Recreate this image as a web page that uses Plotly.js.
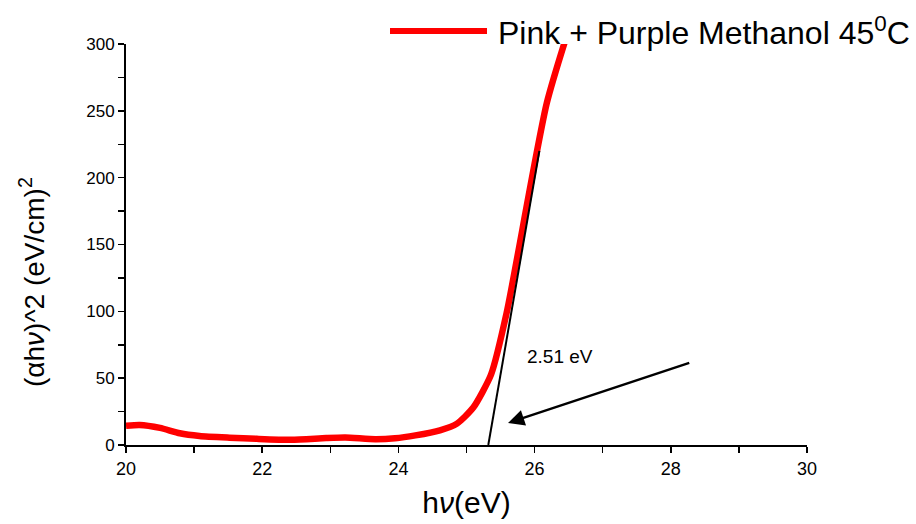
<!DOCTYPE html>
<html><head><meta charset="utf-8">
<script src="https://cdn.plot.ly/plotly-3.0.1.min.js"></script>
<style>body{margin:0;background:#fff}#c{width:916px;height:524px}</style>
</head><body><div id="c"></div>
<script>
// Measured curve (hv in eV, (αhν)^2)
const hv = [20.0, 20.2, 20.5, 20.79, 21.08, 21.52, 21.92, 22.43, 22.94, 23.22, 23.66, 23.95, 24.25, 24.61, 24.86, 25.10, 25.36, 25.59, 26.18, 26.62];
const ahv2 = [14.3, 15.0, 12.8, 8.8, 6.8, 5.5, 4.6, 3.9, 5.2, 5.6, 4.3, 5.0, 7.2, 11.0, 16.0, 28.0, 52.6, 99.0, 256.0, 330.0];
// Tangent (extrapolation) line
const tanX = [25.32, 26.07];
const tanY = [0, 220];
// Arrow and label
const arrowTail = [28.33, 62.4];
const arrowHead = [25.61, 16.5];
const gapLabel = "2.51 eV";
const seriesName = "Pink + Purple Methanol 45<sup>0</sup>C";
const yTitle = "(αh<i>ν</i>)^2 (eV/cm)<sup>2</sup>";
const xTitle = "h<i>ν</i>(eV)";

const FONT = "Liberation Sans, Arial, sans-serif";
const L = 126, R = 807, T = 44, B = 445;
const PW = R - L, PH = B - T;
const data = [
  {x: hv, y: ahv2, mode: "lines", name: seriesName, line: {color: "#ff0000", width: 6.5, shape: "spline", smoothing: 0.6}, showlegend: false},
  {x: tanX, y: tanY, mode: "lines", line: {color: "#000", width: 2}, showlegend: false}
];
const layout = {
  width: 916, height: 524,
  margin: {l: L, r: 916 - R, t: T, b: 524 - B},
  paper_bgcolor: "#fff", plot_bgcolor: "#fff",
  font: {family: FONT, color: "#000", size: 18},
  xaxis: {range: [20, 30], dtick: 2, tick0: 20, ticks: "outside", ticklen: 6, tickwidth: 1.5, tickcolor: "#000",
    showline: true, linecolor: "#000", linewidth: 2, showgrid: false, zeroline: false,
    minor: {dtick: 1, ticks: "outside", ticklen: 6, tickwidth: 1.5, tickcolor: "#000", showgrid: false},
    tickfont: {size: 18}, title: {text: xTitle, font: {size: 30}, standoff: 14}},
  yaxis: {range: [0, 300], dtick: 50, tick0: 0, ticks: "outside", ticklen: 6, tickwidth: 1.5, tickcolor: "#000",
    showline: true, linecolor: "#000", linewidth: 2, showgrid: false, zeroline: false,
    minor: {dtick: 25, ticks: "outside", ticklen: 6, tickwidth: 1.5, tickcolor: "#000", showgrid: false},
    tickfont: {size: 17}},
  shapes: [
    {type: "line", xref: "paper", yref: "paper", x0: (390 - L) / PW, x1: (487 - L) / PW, y0: 1 + 13 / PH, y1: 1 + 13 / PH, line: {color: "#ff0000", width: 6}}
  ],
  annotations: [
    {x: (496 - L) / PW, y: 1 + 13 / PH, xref: "paper", yref: "paper", xanchor: "left", yanchor: "middle", showarrow: false,
     text: seriesName, font: {size: 32}},
    {x: (32 - L) / PW, y: (B - 282) / PH, xref: "paper", yref: "paper", xanchor: "center", yanchor: "middle", showarrow: false,
     textangle: -90, text: yTitle, font: {size: 28}},
    {x: arrowHead[0], y: arrowHead[1], ax: arrowTail[0], ay: arrowTail[1], xref: "x", yref: "y", axref: "x", ayref: "y",
     showarrow: true, arrowhead: 2, arrowsize: 1.3, arrowwidth: 2.5, arrowcolor: "#000", text: " "},
    {x: 26.38, y: 66, xref: "x", yref: "y", showarrow: false, text: gapLabel, font: {size: 19}}
  ]
};
Plotly.newPlot("c", data, layout, {displayModeBar: false, staticPlot: true});
</script></body></html>
